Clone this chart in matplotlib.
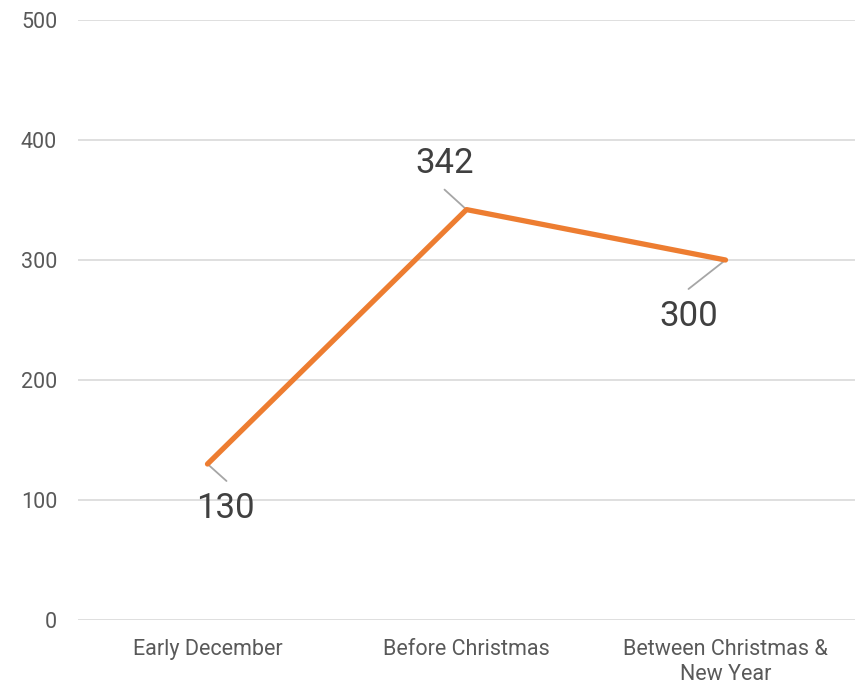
import matplotlib
matplotlib.use("Agg")
import matplotlib.pyplot as plt

categories = ["Early December", "Before Christmas", "Between Christmas &\nNew Year"]
values = [130, 342, 300]
yticks = [0, 100, 200, 300, 400, 500]
label_offsets = [(18, -45), (-22, 46), (-37, -57)]  # pixels
leader_ends = [(19, -17), (-22, 20), (-37, -29)]     # pixels

plt.rcParams['font.family'] = ['Roboto', 'DejaVu Sans']

fig = plt.figure(figsize=(8.56, 6.84), dpi=100)
ax = fig.add_axes([78/856, 64/684, 777/856, 600/684])

x = list(range(len(categories)))
ax.plot(x, values, color='#ED7D31', lw=3.8, solid_capstyle='round', solid_joinstyle='round', zorder=3)

ax.set_xlim(-0.5, len(categories) - 0.5)
ax.set_ylim(0, 500)
ax.set_yticks(yticks)
ax.set_yticklabels([str(t) for t in yticks])
ax.set_xticks(x)
ax.set_xticklabels(categories)
ax.grid(axis='y', color='#D9D9D9', lw=1.2)
ax.set_axisbelow(True)
for s in ax.spines.values():
    s.set_visible(False)
ax.tick_params(axis='both', length=0, colors='#595959')
ax.tick_params(axis='y', pad=15, labelsize=15.5)
ax.tick_params(axis='x', pad=14, labelsize=15.5)
for lbl in ax.get_xticklabels():
    lbl.set_linespacing(1.25)

for xi, v, off, le in zip(x, values, label_offsets, leader_ends):
    ax.annotate('', xy=(xi, v), xytext=le, textcoords='offset pixels',
                arrowprops=dict(arrowstyle='-', color='#A6A6A6', lw=1.3,
                                shrinkA=0, shrinkB=0), zorder=2)
    ax.annotate(str(v), xy=(xi, v), xytext=off, textcoords='offset pixels',
                ha='center', va='center', fontsize=25, color='#404040')

fig.savefig('out.png', dpi=100)
